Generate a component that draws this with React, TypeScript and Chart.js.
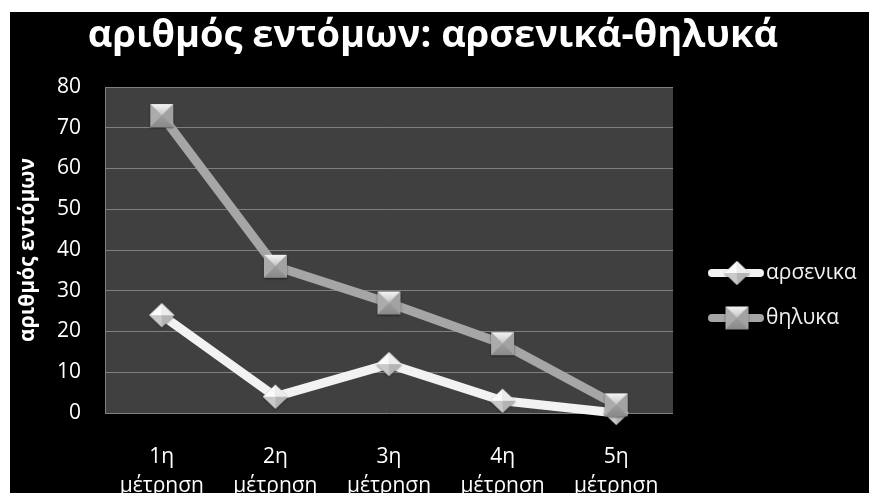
import React, { useEffect, useRef } from 'react';
import { Chart, registerables } from 'chart.js';

Chart.register(...registerables);

// Chart content
const chartTitle = 'αριθμός εντόμων: αρσενικά-θηλυκά';
const yAxisTitle = 'αριθμός εντόμων';
const categories: string[][] = [
  ['1η', 'μέτρηση'],
  ['2η', 'μέτρηση'],
  ['3η', 'μέτρηση'],
  ['4η', 'μέτρηση'],
  ['5η', 'μέτρηση'],
];
const seriesNames = ['αρσενικα', 'θηλυκα'];
const arsenika = [24, 4, 12, 3, 0];
const thilyka = [73, 36, 27, 17, 2];
const yMin = 0;
const yMax = 80;
const yStep = 10;

const FONT = '"Open Sans", "Noto Sans", "DejaVu Sans", sans-serif';
const W = 859;
const H = 481;

function makeSquareMarker(size: number): HTMLCanvasElement {
  const pad = 3;
  const c = document.createElement('canvas');
  c.width = size + pad * 2;
  c.height = size + pad * 2;
  const ctx = c.getContext('2d')!;
  const x0 = pad, y0 = pad, x1 = pad + size, y1 = pad + size;
  const cx = (x0 + x1) / 2, cy = (y0 + y1) / 2;
  ctx.shadowColor = 'rgba(0,0,0,0.5)';
  ctx.shadowBlur = 2;
  ctx.shadowOffsetY = 1;
  ctx.fillStyle = '#9a9a9a';
  ctx.fillRect(x0, y0, size, size);
  ctx.shadowColor = 'transparent';
  const face = (pts: number[][], fill: string | CanvasGradient) => {
    ctx.beginPath();
    ctx.moveTo(pts[0][0], pts[0][1]);
    for (let i = 1; i < pts.length; i++) ctx.lineTo(pts[i][0], pts[i][1]);
    ctx.closePath();
    ctx.fillStyle = fill;
    ctx.fill();
  };
  const top = ctx.createLinearGradient(0, y0, 0, cy);
  top.addColorStop(0, '#f4f4f4');
  top.addColorStop(1, '#c4c4c4');
  face([[x0, y0], [x1, y0], [cx, cy]], top);
  face([[x0, y0], [cx, cy], [x0, y1]], '#ababab');
  face([[x1, y0], [x1, y1], [cx, cy]], '#a2a2a2');
  const bot = ctx.createLinearGradient(0, cy, 0, y1);
  bot.addColorStop(0, '#9c9c9c');
  bot.addColorStop(1, '#8a8a8a');
  face([[x0, y1], [cx, cy], [x1, y1]], bot);
  return c;
}

function makeDiamondMarker(w: number, h: number): HTMLCanvasElement {
  const pad = 3;
  const c = document.createElement('canvas');
  c.width = w + pad * 2;
  c.height = h + pad * 2;
  const ctx = c.getContext('2d')!;
  const cx = pad + w / 2, cy = pad + h / 2;
  const T = [cx, pad], R = [pad + w, cy], B = [cx, pad + h], L = [pad, cy], C = [cx, cy];
  const face = (pts: number[][], fill: string | CanvasGradient) => {
    ctx.beginPath();
    ctx.moveTo(pts[0][0], pts[0][1]);
    for (let i = 1; i < pts.length; i++) ctx.lineTo(pts[i][0], pts[i][1]);
    ctx.closePath();
    ctx.fillStyle = fill;
    ctx.fill();
  };
  ctx.shadowColor = 'rgba(0,0,0,0.5)';
  ctx.shadowBlur = 2;
  ctx.shadowOffsetY = 1;
  face([T, R, B, L], '#d0d0d0');
  ctx.shadowColor = 'transparent';
  face([T, C, L], '#fbfbfb');
  face([T, R, C], '#ececec');
  face([L, C, B], '#c9c9c9');
  face([C, R, B], '#b4b4b4');
  return c;
}

export default function App() {
  const canvasRef = useRef<HTMLCanvasElement | null>(null);

  useEffect(() => {
    const canvas = canvasRef.current;
    if (!canvas) return;
    const square = makeSquareMarker(23);
    const diamond = makeDiamondMarker(25, 24);

    const plotBackground = {
      id: 'plotBackground',
      beforeDraw(chart: any) {
        const { ctx, chartArea } = chart;
        ctx.save();
        ctx.fillStyle = '#404040';
        ctx.fillRect(chartArea.left, chartArea.top, chartArea.right - chartArea.left, chartArea.bottom - chartArea.top);
        ctx.restore();
      },
    };

    const titleAndLegend = {
      id: 'titleAndLegend',
      afterDraw(chart: any) {
        const { ctx } = chart;
        ctx.save();
        ctx.fillStyle = '#ffffff';
        ctx.font = `bold 38px ${FONT}`;
        ctx.textAlign = 'center';
        ctx.textBaseline = 'alphabetic';
        ctx.fillText(chartTitle, 423, 35);

        const items = [
          { name: seriesNames[0], color: '#f2f2f2', marker: diamond, y: 261 },
          { name: seriesNames[1], color: '#a6a6a6', marker: square, y: 306 },
        ];
        items.forEach((it) => {
          ctx.strokeStyle = it.color;
          ctx.lineWidth = 8;
          ctx.lineCap = 'round';
          ctx.beginPath();
          ctx.moveTo(702, it.y);
          ctx.lineTo(750, it.y);
          ctx.stroke();
          ctx.drawImage(it.marker, 727 - it.marker.width / 2, it.y - it.marker.height / 2);
          ctx.fillStyle = '#f2f2f2';
          ctx.font = `21px ${FONT}`;
          ctx.textAlign = 'left';
          ctx.textBaseline = 'middle';
          ctx.fillText(it.name, 756, it.y);
        });
        ctx.restore();
      },
    };

    const chart = new Chart(canvas, {
      type: 'line',
      data: {
        labels: categories,
        datasets: [
          {
            label: seriesNames[0],
            data: arsenika,
            borderColor: '#f2f2f2',
            backgroundColor: '#f2f2f2',
            borderWidth: 9,
            borderCapStyle: 'round',
            borderJoinStyle: 'round',
            pointStyle: diamond,
            clip: false as any,
            order: 1,
          },
          {
            label: seriesNames[1],
            data: thilyka,
            borderColor: '#a6a6a6',
            backgroundColor: '#a6a6a6',
            borderWidth: 9,
            borderCapStyle: 'round',
            borderJoinStyle: 'round',
            pointStyle: square,
            clip: false as any,
            order: 0,
          },
        ],
      },
      options: {
        responsive: false,
        animation: false,
        devicePixelRatio: 1,
        layout: { padding: { top: 75, right: 196, bottom: 0, left: 0 } },
        plugins: {
          legend: { display: false },
          title: { display: false },
          tooltip: { enabled: false },
        },
        scales: {
          x: {
            type: 'category',
            offset: true,
            grid: { display: false, drawTicks: false },
            border: { display: false },
            ticks: {
              color: '#ffffff',
              font: { family: FONT, size: 21, lineHeight: 1.4 },
              padding: 29,
              maxRotation: 0,
              autoSkip: false,
            },
            afterFit: (s: any) => {
              s.height = 80;
            },
          },
          y: {
            min: yMin,
            max: yMax,
            ticks: {
              stepSize: yStep,
              color: '#ffffff',
              font: { family: FONT, size: 21 },
              padding: 24,
            },
            grid: { color: '#808080', lineWidth: 1, drawTicks: false },
            border: { display: true, color: '#808080', width: 1 },
            title: {
              display: true,
              text: yAxisTitle,
              color: '#ffffff',
              font: { family: FONT, size: 21, weight: 'bold' },
              padding: { top: 5, bottom: 0 },
            },
            afterFit: (s: any) => {
              s.width = 95;
            },
          },
        },
      },
      plugins: [plotBackground, titleAndLegend],
    } as any);

    return () => chart.destroy();
  }, []);

  return (
    <div
      style={{
        position: 'fixed',
        left: 10,
        top: 12,
        width: W,
        height: H,
        background: '#000000',
        overflow: 'hidden',
      }}
    >
      <canvas ref={canvasRef} width={W} height={H} style={{ display: 'block' }} />
    </div>
  );
}
